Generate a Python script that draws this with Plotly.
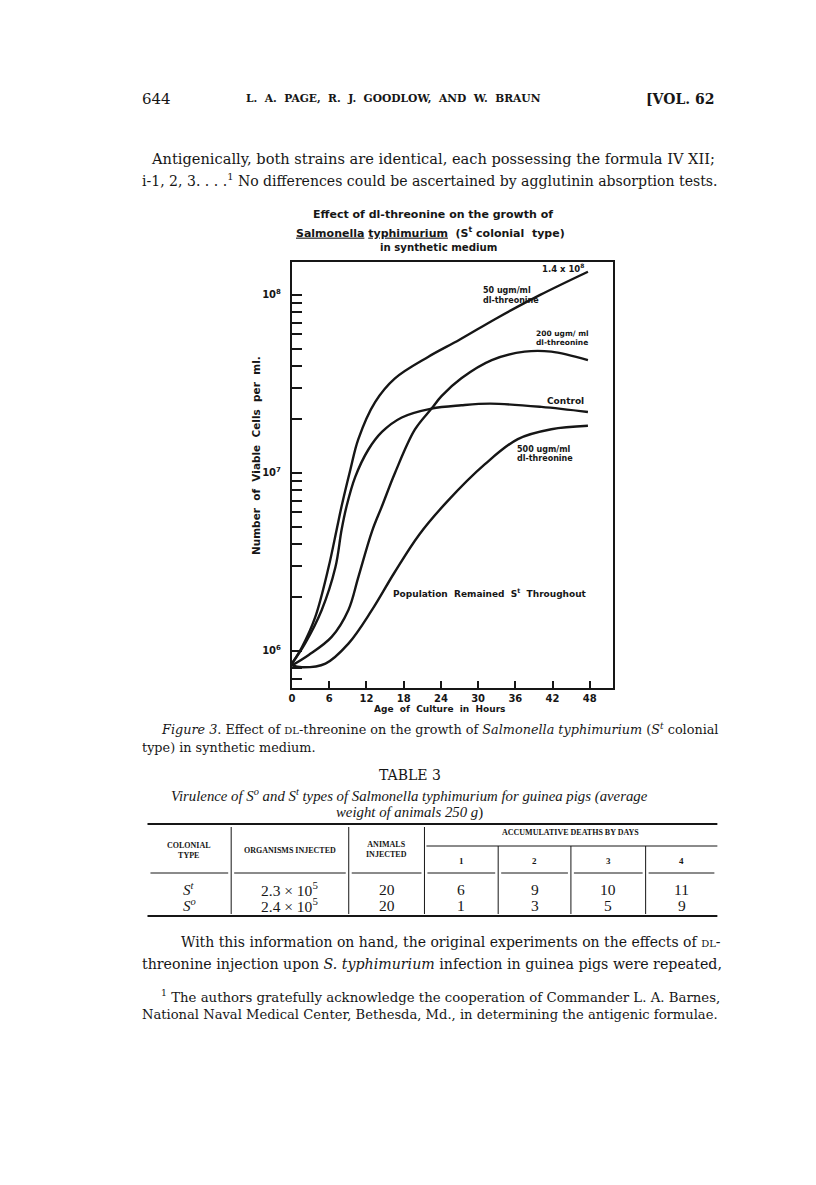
import plotly.graph_objects as go

# ---- data (hours, viable cells per ml) ----
hours_50 = [0, 1.6, 3.75, 5.9, 7.2, 8.0, 9.4, 10.7, 13.4, 16.6, 22, 27, 33, 40, 47.7]
cells_50 = [8.5e5, 1.05e6, 1.55e6, 2.95e6, 4.8e6, 6.5e6, 1.04e7, 1.55e7, 2.5e7,
            3.4e7, 4.5e7, 5.6e7, 7.4e7, 1.0e8, 1.35e8]

hours_ctrl = [0, 2.1, 4.8, 7.0, 8.0, 8.8, 10.2, 12.3, 14.5, 17.7, 22.5, 27.3, 32, 40.2, 47.7]
cells_ctrl = [8.5e5, 1.1e6, 1.7e6, 2.95e6, 4.8e6, 6.5e6, 9.5e6, 1.35e7, 1.7e7, 2.05e7,
              2.3e7, 2.4e7, 2.45e7, 2.35e7, 2.2e7]

hours_200 = [0, 2.7, 6.4, 9.1, 10.7, 12.9, 14.5, 16.6, 19.8, 22.5, 24.1, 27.3, 32.2, 37.5, 41.8, 47.7]
cells_200 = [8.3e5, 9.5e5, 1.2e6, 1.7e6, 2.6e6, 4.7e6, 6.5e6, 1.0e7, 1.75e7, 2.3e7,
             2.7e7, 3.4e7, 4.3e7, 4.8e7, 4.8e7, 4.3e7]

hours_500 = [0, 1.6, 5.4, 9.1, 12.9, 16.5, 20.5, 25, 31.1, 36.4, 41.8, 47.7]
cells_500 = [8.3e5, 8.1e5, 8.5e5, 1.1e6, 1.7e6, 2.75e6, 4.5e6, 6.9e6, 1.12e7, 1.55e7,
             1.76e7, 1.84e7]

x_ticks = [0, 6, 12, 18, 24, 30, 36, 42, 48]
y_ticks = [7e5, 8e5, 1e6, 2e6, 3e6, 4e6, 5e6, 6e6, 7e6, 8e6, 9e6, 1e7,
           2e7, 3e7, 4e7, 5e7, 6e7, 7e7, 8e7, 9e7, 1e8]
y_ticktext = ['10<sup>6</sup>' if v == 1e6 else '10<sup>7</sup>' if v == 1e7
              else '10<sup>8</sup>' if v == 1e8 else '' for v in y_ticks]

# table 3
colonial_types = ['S<sup>t</sup>', 'S<sup>o</sup>']
organisms_injected = ['2.3 × 10<sup>5</sup>', '2.4 × 10<sup>5</sup>']
animals_injected = [20, 20]
deaths_by_day = [[6, 9, 10, 11], [1, 3, 5, 9]]
days = [1, 2, 3, 4]

# page is drawn 8px in from the corner (browser body margin)
OFF = 8
W, H = 816 - OFF, 1185 - OFF
INK = '#161616'
SERIF = 'DejaVu Serif'
TIMES = 'Liberation Serif'
SANS = 'DejaVu Sans'


def px(x):
    return (x - OFF) / W


def py(y):
    return 1 - (y - OFF) / H


fig = go.Figure()

for xs, ys in [(hours_50, cells_50), (hours_ctrl, cells_ctrl),
               (hours_200, cells_200), (hours_500, cells_500)]:
    fig.add_trace(go.Scatter(x=xs, y=ys, mode='lines',
                             line=dict(color=INK, width=2.4, shape='spline', smoothing=1.0),
                             showlegend=False, hoverinfo='skip'))

fig.update_layout(
    width=W, height=H,
    margin=dict(l=0, r=0, t=0, b=0),
    paper_bgcolor='white', plot_bgcolor='white',
    xaxis=dict(domain=[px(290), px(612)], range=[0, 51.7],
               tickvals=x_ticks, ticks='inside', ticklen=7, tickwidth=2, tickcolor=INK,
               showline=True, linewidth=2, linecolor=INK, mirror=True,
               showgrid=False, zeroline=False,
               tickfont=dict(family=SANS, size=10, color=INK, weight='bold')),
    yaxis=dict(domain=[py(688), py(262)], type='log', range=[5.792, 8.185],
               tickvals=y_ticks, ticktext=y_ticktext,
               ticks='inside', ticklen=10, tickwidth=2, tickcolor=INK,
               ticklabelstandoff=7,
               showline=True, linewidth=2, linecolor=INK, mirror=True,
               showgrid=False, zeroline=False,
               tickfont=dict(family=SANS, size=10, color=INK, weight='bold')),
)


def text(x, y, s, size, anchor='left', family=SERIF, bold=False, angle=0):
    fig.add_annotation(x=px(x), y=py(y), xref='paper', yref='paper', text=s,
                       showarrow=False, xanchor=anchor, yanchor='middle', textangle=angle,
                       font=dict(family=family, size=size, color=INK,
                                 weight='bold' if bold else 'normal'))


# chart title and labels
text(432, 214, 'Effect of dl-threonine on the growth of', 11, 'center', SANS, True)
text(429, 232, '<u>Salmonella</u> <u>typhimurium</u>  (S<sup>t</sup> colonial  type)', 11, 'center', SANS, True)
text(437, 248, 'in synthetic medium', 10.2, 'center', SANS, True)
text(585, 268, '1.4 x 10<sup>8</sup>', 8.5, 'right', SANS, True)
text(480, 290, '50 ugm/ml', 8, 'left', SANS, True)
text(480, 300, 'dl-threonine', 8, 'left', SANS, True)
text(533, 333, '200 ugm/ ml', 7.5, 'left', SANS, True)
text(533, 343, 'dl-threonine', 7.5, 'left', SANS, True)
text(585, 401, 'Control', 9, 'right', SANS, True)
text(514, 449, '500 ugm/ml', 8, 'left', SANS, True)
text(514, 459, 'dl-threonine', 8, 'left', SANS, True)
text(588, 593, 'Population  Remained  S<sup>t</sup>  Throughout', 9, 'right', SANS, True)
text(254, 456, 'Number  of  Viable  Cells  per  ml.', 10.5, 'center', SANS, True, angle=-90)
text(438, 709, 'Age  of  Culture  in  Hours', 9, 'center', SANS, True)

# page header and body text
text(137, 99, '644', 15)
text(392, 99, 'L.  A.  PAGE,  R.  J.  GOODLOW,  AND  W.  BRAUN', 10.7, 'center', SERIF, True)
text(717, 99, '[VOL. 62', 14, 'right', SERIF, True)
text(147, 158, 'Antigenically, both strains are identical, each possessing the formula IV XII;', 14.6)
text(137, 180, 'i-1, 2, 3. . . .<sup>1</sup> No differences could be ascertained by agglutinin absorption tests.', 14.05)

text(157, 729, '<i>Figure 3</i>. Effect of <span style="font-size:10px">DL</span>-threonine on the growth of '
               '<i>Salmonella typhimurium</i> (<i>S<sup>t</sup></i> colonial', 12.8)
text(137, 747, 'type) in synthetic medium.', 12.8)
text(408, 775, 'TABLE 3', 14, 'center')
text(408, 795, '<i>Virulence of S<sup>o</sup> and S<sup>t</sup> types of Salmonella typhimurium '
               'for guinea pigs (average</i>', 14.8, 'center', TIMES)
text(408, 812, '<i>weight of animals 250 g</i>)', 14.8, 'center', TIMES)

# table 3 rules
col_edges = [145, 229, 347, 423, 497, 570, 645, 717]
top, head_mid, head_bot, bottom = 824, 846, 873, 916


def rule(x0, x1, y0, y1, w=1.0):
    fig.add_shape(type='line', xref='paper', yref='paper', x0=px(x0), x1=px(x1),
                  y0=py(y0), y1=py(y1), line=dict(color=INK, width=w))


rule(145, 717, top, top, 2)
rule(145, 717, bottom, bottom, 2)
rule(col_edges[3] + 2, 717, head_mid, head_mid, 1)
for a, b in zip(col_edges[:-1], col_edges[1:]):
    rule(a + 3, b - 3, head_bot, head_bot, 1)
for i, xe in enumerate(col_edges[1:-1]):
    rule(xe, xe, top + 3 if i < 3 else head_mid, bottom - 2, 1)

centers = [(a + b) / 2 for a, b in zip(col_edges[:-1], col_edges[1:])]
text(centers[0], 850, 'COLONIAL<br>TYPE', 8, 'center', TIMES, True)
text(centers[1], 850, 'ORGANISMS INJECTED', 8, 'center', TIMES, True)
text(centers[2], 849, 'ANIMALS<br>INJECTED', 8, 'center', TIMES, True)
text((col_edges[3] + col_edges[-1]) / 2, 832, 'ACCUMULATIVE DEATHS BY DAYS', 8, 'center', TIMES, True)
for d, c in zip(days, centers[3:]):
    text(c, 861, str(d), 9, 'center', TIMES, True)

for r, row_y in enumerate([889, 905]):
    text(centers[0], row_y, '<i>' + colonial_types[r] + '</i>', 15, 'center', TIMES)
    text(centers[1], row_y, organisms_injected[r], 15.5, 'center', TIMES)
    text(centers[2], row_y, str(animals_injected[r]), 15.5, 'center', TIMES)
    for d, c in zip(deaths_by_day[r], centers[3:]):
        text(c, row_y, str(d), 15.5, 'center', TIMES)

text(177, 942, 'With this information on hand, the original experiments on the effects of '
               '<span style="font-size:10px">DL</span>-', 14)
text(137, 964, 'threonine injection upon <i>S. typhimurium</i> infection in guinea pigs were repeated,', 14.2)
text(157, 996, '<sup>1</sup> The authors gratefully acknowledge the cooperation of Commander L. A. Barnes,', 13.3)
text(137, 1014, 'National Naval Medical Center, Bethesda, Md., in determining the antigenic formulae.', 13.1)

fig.write_html('out.html')
